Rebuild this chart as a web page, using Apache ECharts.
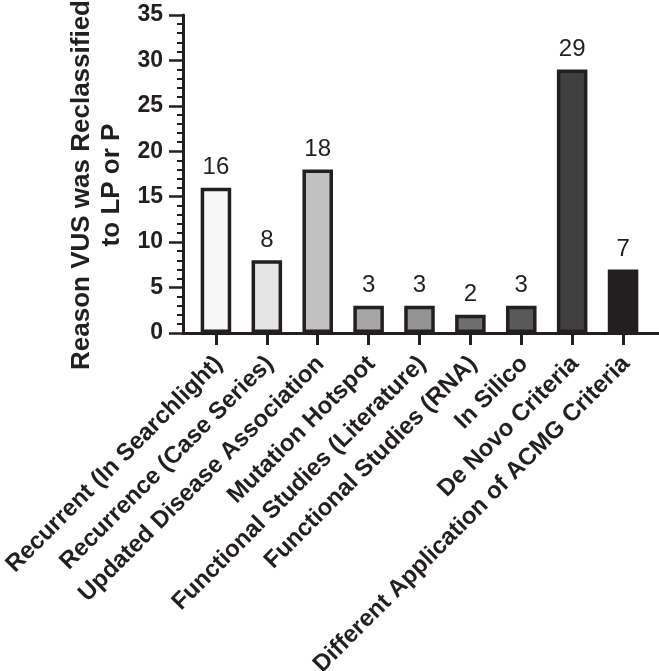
<!DOCTYPE html>
<html>
<head>
<meta charset="utf-8">
<script src="https://cdn.jsdelivr.net/npm/echarts@6/dist/echarts.min.js"></script>
<style>
html,body{margin:0;padding:0;background:#fff;}
#chart{width:659px;height:671px;}
</style>
</head>
<body>
<div id="chart"></div>
<script>
var categories = [
  'Recurrent (In Searchlight)',
  'Recurrence (Case Series)',
  'Updated Disease Association',
  'Mutation Hotspot',
  'Functional Studies (Literature)',
  'Functional Studies (RNA)',
  'In Silico',
  'De Novo Criteria',
  'Different Application of ACMG Criteria'
];
var values = [16, 8, 18, 3, 3, 2, 3, 29, 7];
var yTicks = [0, 5, 10, 15, 20, 25, 30, 35];
var barColors = ['#f7f7f7', '#e5e5e5', '#c0c0c0', '#a6a6a6', '#939393', '#6e6e6e', '#595959', '#404040', '#231f20'];

var ink = '#231f20';
var font = 'Liberation Sans, Arial, Helvetica, sans-serif';

var chart = echarts.init(document.getElementById('chart'), null, {renderer: 'canvas'});
chart.setOption({
  animation: false,
  backgroundColor: '#ffffff',
  grid: [
    {left: 190.5, width: 458, top: 15, height: 318, containLabel: false, outerBoundsMode: 'none'},
    {left: 183, width: 476, top: 15, height: 318, containLabel: false, outerBoundsMode: 'none'}
  ],
  xAxis: [
    {
      type: 'category', gridIndex: 0, data: categories,
      axisLine: {show: false},
      axisTick: {show: true, alignWithLabel: true, length: 12, lineStyle: {color: ink, width: 3}},
      axisLabel: {
        rotate: 45, interval: 0, margin: 13, verticalAlign: 'top', padding: [0, 8, 0, 0],
        fontFamily: font, fontWeight: 'bold', fontSize: 24, color: ink
      }
    },
    {
      type: 'category', gridIndex: 1, data: [],
      axisLine: {show: true, lineStyle: {color: ink, width: 3}},
      axisTick: {show: false}, axisLabel: {show: false}
    }
  ],
  yAxis: [
    {
      type: 'value', gridIndex: 0, min: yTicks[0], max: yTicks[yTicks.length - 1], interval: 5,
      offset: 7.5,
      name: 'Reason VUS was Reclassified\nto LP or P',
      nameLocation: 'middle', nameRotate: 90, nameGap: 52,
      nameTextStyle: {fontFamily: font, fontWeight: 'bold', fontSize: 26, color: ink, lineHeight: 30, padding: [0, 22, 0, 0]},
      axisLine: {show: true, lineStyle: {color: ink, width: 3}},
      axisTick: {show: true, length: 14, lineStyle: {color: ink, width: 2.5}},
      minorTick: {show: true, splitNumber: 5, length: 6, lineStyle: {color: ink, width: 2}},
      splitLine: {show: false},
      axisLabel: {margin: 20, fontFamily: font, fontWeight: 'bold', fontSize: 23, color: ink}
    },
    {
      type: 'value', gridIndex: 1, show: false
    }
  ],
  series: [{
    type: 'bar', xAxisIndex: 0, yAxisIndex: 0,
    barWidth: '60%',
    data: values.map(function (v, i) {
      return {value: v, itemStyle: {color: barColors[i]}};
    }),
    itemStyle: {borderColor: ink, borderWidth: 3.5},
    label: {show: true, position: 'top', distance: 8, fontFamily: font, fontSize: 24, color: ink}
  }]
});
</script>
</body>
</html>
